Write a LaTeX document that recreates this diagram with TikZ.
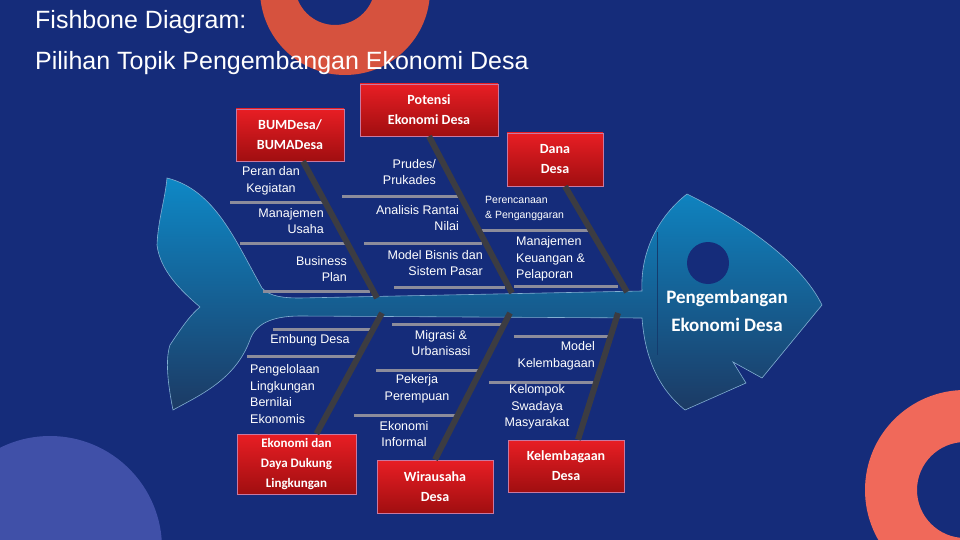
\documentclass[tikz,border=0pt]{standalone}
\usepackage{fontspec}
\setmainfont{Liberation Sans}
\newfontfamily\carlitofont{Carlito}
\definecolor{bg}{RGB}{21,44,122}
\definecolor{ringA}{RGB}{214,82,62}
\definecolor{ringB}{RGB}{240,105,90}
\definecolor{lav}{RGB}{64,80,168}
\definecolor{fishT}{RGB}{14,136,198}
\definecolor{fishB}{RGB}{28,58,100}
\definecolor{fishedge}{RGB}{130,175,210}
\definecolor{gill}{RGB}{20,60,110}
\definecolor{boxedge}{RGB}{200,120,160}
\definecolor{bone}{RGB}{60,60,66}
\definecolor{sub}{RGB}{140,140,155}
\definecolor{redT}{RGB}{232,30,36}
\definecolor{redB}{RGB}{160,14,16}
\begin{document}
\begin{tikzpicture}[x=1pt,y=-1pt,
  redbox/.style={draw=boxedge,line width=0.6pt,top color=redT,bottom color=redB,text=white,font=\carlitofont\bfseries\fontsize{14}{20}\selectfont,align=center,inner sep=0pt},
  lbl/.style={text=white,font=\fontsize{12.5}{16.5}\selectfont,inner sep=0pt},
  bonel/.style={bone,line width=6pt},
  subl/.style={sub,line width=3pt}]
\fill[bg] (0,0) rectangle (960,540);
\useasboundingbox (0,0) rectangle (960,540);
% decorations
\fill[ringA,even odd rule] (345,-10) circle (85) (335,-15) circle (40);
\fill[ringB,even odd rule] (965,490) circle (100) (965,490) circle (48);
\fill[lav] (50,548) circle (112);
% title
\node[anchor=west,text=white,font=\fontsize{25}{30}\selectfont,inner sep=0pt] (t1) at (35,22) {Fishbone Diagram:};
\node[anchor=west,text=white,font=\fontsize{25}{30}\selectfont,inner sep=0pt] (t2) at (35,63) {Pilihan Topik Pengembangan Ekonomi Desa};
% fish
\path[draw=fishedge,line width=0.6pt,top color=fishT,bottom color=fishB]
 (167,178) .. controls (215,190) and (235,240) .. (262,288) .. controls (270,297) and (285,298) .. (300,298)
 -- (642,291) .. controls (640,250) and (660,215) .. (687,194)
 .. controls (740,220) and (800,260) .. (822,305) -- (762,378) -- (733,362) -- (746,383) -- (685,410)
 .. controls (660,390) and (645,360) .. (642,318) -- (300,316)
 .. controls (270,316) and (255,325) .. (250,340) .. controls (235,380) and (200,395) .. (173,410)
 .. controls (168,385) and (165,360) .. (170,345) .. controls (180,330) and (190,315) .. (200,307)
 .. controls (180,290) and (160,270) .. (157,245) .. controls (158,220) and (165,200) .. (167,178) -- cycle;
\draw[gill,line width=0.6pt] (657,232) -- (657,355);
\fill[bg] (708,263) circle (21);
\node[text=white,font=\carlitofont\bfseries\fontsize{19}{28}\selectfont,align=center] (head) at (727,311) {Pengembangan\\Ekonomi Desa};
% sub bones
\draw[subl] (230,202) -- (327,202); \draw[subl] (240,243) -- (347,243); \draw[subl] (263,291) -- (370,291);
\draw[subl] (342,196) -- (459,196); \draw[subl] (364,243) -- (482,243); \draw[subl] (394,287) -- (505,287);
\draw[subl] (478,230) -- (590,230); \draw[subl] (514,286) -- (618,286);
\draw[subl] (273,329) -- (375,329); \draw[subl] (247,356) -- (357,356);
\draw[subl] (392,324) -- (502,324); \draw[subl] (376,370) -- (480,370); \draw[subl] (354,415) -- (459,415);
\draw[subl] (514,336) -- (612,336); \draw[subl] (489,382) -- (597,382);
% boxes
\node[redbox,minimum width=108,minimum height=52] (b1) at (290,135) {BUMDesa/\\BUMADesa};
\node[redbox,minimum width=138,minimum height=52] (b2) at (429,110) {Potensi\\Ekonomi Desa};
\node[redbox,minimum width=96,minimum height=53] (b3) at (555,159.5) {Dana\\Desa};
\node[redbox,minimum width=119,minimum height=60,font=\carlitofont\bfseries\fontsize{13}{20}\selectfont] (b4) at (296.5,464) {Ekonomi dan\\Daya Dukung\\Lingkungan};
\node[redbox,minimum width=116,minimum height=53] (b5) at (435,486.5) {Wirausaha\\Desa};
\node[redbox,minimum width=116,minimum height=52] (b6) at (566,466) {Kelembagaan\\Desa};
% spine anchors and main bones
\coordinate (s1) at (377,298); \coordinate (s2) at (512,293); \coordinate (s3) at (627,292);
\coordinate (s4) at (382,313); \coordinate (s5) at (510,313); \coordinate (s6) at (618,313);
\draw[bonel] ([xshift=13pt]b1.south) -- (s1);
\draw[bonel] (b2.south) -- (s2);
\draw[bonel] ([xshift=10pt]b3.south) -- (s3);
\draw[bonel] ([xshift=20pt]b4.north) -- (s4);
\draw[bonel] (b5.north) -- (s5);
\draw[bonel] ([xshift=12pt]b6.north) -- (s6);
% labels
\node[lbl,align=center] (l1) at (271,181) {Peran dan\\Kegiatan};
\node[lbl,align=right,anchor=east] (l2) at (324,221) {Manajemen\\Usaha};
\node[lbl,align=right,anchor=east] (l3) at (347,269) {Business\\Plan};
\node[lbl,align=right,anchor=east] (l4) at (436,172) {Prudes/\\Prukades};
\node[lbl,align=right,anchor=east] (l5) at (459,218) {Analisis Rantai\\Nilai};
\node[lbl,align=right,anchor=east] (l6) at (483,263) {Model Bisnis dan\\Sistem Pasar};
\node[lbl,align=left,anchor=west,font=\fontsize{10.5}{15}\selectfont] (l7) at (485,208) {Perencanaan\\\& Penganggaran};
\node[lbl,align=left,anchor=west] (l8) at (516,259) {Manajemen\\Keuangan \&\\Pelaporan};
\node[lbl] (l9) at (310,340) {Embung Desa};
\node[lbl,align=left,anchor=west] (l10) at (250,394) {Pengelolaan\\Lingkungan\\Bernilai\\Ekonomis};
\node[lbl,align=center] (l11) at (441,343) {Migrasi \&\\Urbanisasi};
\node[lbl,align=center] (l12) at (417,389) {Pekerja\\Perempuan};
\node[lbl,align=center] (l13) at (404,434) {Ekonomi\\Informal};
\node[lbl,align=right,anchor=east] (l14) at (595,356) {Model\\Kelembagaan};
\node[lbl,align=center] (l15) at (537,407) {Kelompok\\Swadaya\\Masyarakat};
\end{tikzpicture}
\end{document}
